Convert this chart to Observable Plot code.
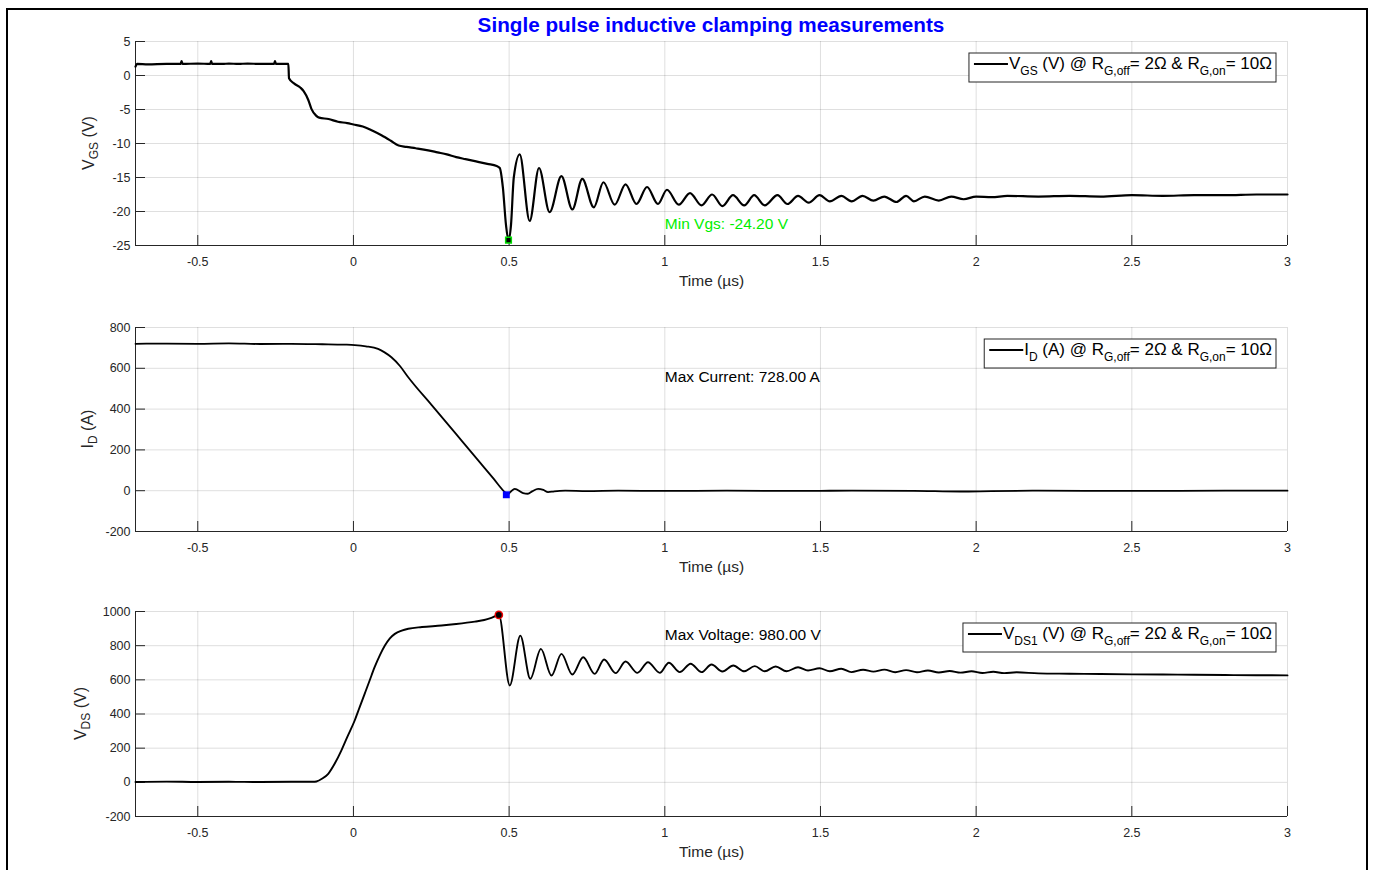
<!DOCTYPE html>
<html><head><meta charset="utf-8">
<script src="https://cdn.jsdelivr.net/npm/d3@7"></script>
<script src="https://cdn.jsdelivr.net/npm/@observablehq/plot@0.6"></script>
<style>
body{margin:0;background:#fff;overflow:hidden;width:1373px;height:870px;font-family:"Liberation Sans",Arial,Helvetica,sans-serif;}
#frame{position:absolute;left:6px;top:8px;width:1362px;height:900px;border:2px solid #000;box-sizing:border-box;}
#title{position:absolute;left:0;width:1422px;top:13px;text-align:center;font-weight:bold;font-size:20.7px;line-height:24px;color:#0000ff;}
.panel{position:absolute;left:0;}
</style></head><body>
<div id="frame"></div>
<div id="p1" class="panel" style="top:11px"></div>
<div id="p2" class="panel" style="top:297px"></div>
<div id="p3" class="panel" style="top:581px"></div>
<div id="title">Single pulse inductive clamping measurements</div>
<script>
// ---------- data ----------
const xDomain = [-0.7, 3];
const xTicks = [-0.5, 0, 0.5, 1, 1.5, 2, 2.5, 3];
const vgsTicks = [-25, -20, -15, -10, -5, 0, 5];
const idTicks = [-200, 0, 200, 400, 600, 800];
const vdsTicks = [-200, 0, 200, 400, 600, 800, 1000];

// V_GS (V) vs time (µs)
const vgsT = [-0.70,-0.695,-0.66,-0.60,-0.555,-0.552,-0.549,-0.50,-0.46,-0.457,-0.454,-0.42,-0.40,-0.37,-0.34,-0.30,-0.27,-0.255,-0.252,-0.249,-0.23,-0.209,
  -0.207,-0.19,-0.17,-0.16,-0.145,-0.135,-0.12,-0.11,-0.08,-0.05,-0.02,0.00,0.03,0.06,0.09,0.12,0.145,0.17,0.20,0.24,0.27,0.30,0.33,0.36,0.40,0.43,0.46,0.47,0.48,0.49,0.498,0.506,0.515,
  0.534,0.566,0.596,0.630,0.668,0.703,0.735,0.772,0.803,0.839,0.874,0.909,0.943,0.978,1.007,1.045,1.081,1.118,1.152,1.185,1.219,1.255,1.287,1.321,1.362,1.394,1.428,1.462,1.497,1.530,1.567,1.600,1.635,1.670,1.705,1.744,1.775,1.800,1.835,1.880,1.920,1.960,2.000,2.050,2.100,2.200,2.300,2.400,2.500,2.600,2.700,2.800,2.900,3.000];
const vgsV = [1.3,1.7,1.65,1.7,1.7,2.1,1.7,1.75,1.7,2.1,1.7,1.7,1.75,1.7,1.75,1.7,1.7,1.7,2.1,1.7,1.7,1.7,
  -0.4,-1.2,-1.8,-2.3,-3.6,-4.9,-5.9,-6.2,-6.4,-6.8,-7.0,-7.2,-7.5,-8.1,-8.8,-9.6,-10.3,-10.5,-10.7,-11.0,-11.3,-11.6,-12.0,-12.3,-12.7,-13.0,-13.3,-13.6,-16.5,-22.0,-24.2,-22.0,-15.0,
  -11.6,-21.4,-13.6,-20.1,-14.8,-19.7,-15.2,-19.4,-15.7,-19.0,-16.0,-18.9,-16.4,-18.9,-16.8,-19.0,-17.3,-19.1,-17.5,-19.2,-17.6,-19.1,-17.6,-19.1,-17.6,-18.9,-17.7,-18.7,-17.6,-18.5,-17.7,-18.5,-17.7,-18.4,-17.8,-18.6,-17.7,-18.5,-17.8,-18.4,-17.8,-18.2,-17.8,-17.9,-17.7,-17.8,-17.7,-17.8,-17.6,-17.7,-17.6,-17.6,-17.5,-17.5];

// I_D (A) vs time (µs)
const idT = [-0.70,-0.60,-0.50,-0.40,-0.30,-0.20,-0.10,-0.03,0.004,0.04,0.079,0.10,0.122,0.15,0.176,0.25,0.33,0.40,0.45,0.487,0.495,0.505,0.518,0.545,0.560,0.575,0.593,0.610,0.625,0.645,0.680,0.750,0.850,1.000,1.200,1.400,1.600,1.800,1.950,2.050,2.200,2.500,2.800,3.000];
const idV = [720,721,720,722,719,720,718,716,714,708,695,678,654,610,556,422,277,150,59,-8,-18,-5,9,-12,-15,-2,9,4,-7,-3,0,-2,0,-1,0,-1,0,-1,-4,-2,0,-1,0,0];

// V_DS (V) vs time (µs)
const vdsT = [-0.70,-0.60,-0.50,-0.40,-0.30,-0.20,-0.13,-0.119,-0.10,-0.081,-0.06,-0.039,-0.02,0.004,0.02,0.036,0.052,0.068,0.085,0.101,0.117,0.133,0.155,0.176,0.22,0.283,0.33,0.39,0.42,0.443,0.467,
  0.502,0.536,0.568,0.602,0.636,0.668,0.703,0.738,0.775,0.805,0.842,0.874,0.912,0.946,0.984,1.013,1.048,1.083,1.118,1.150,1.185,1.220,1.255,1.289,1.321,1.356,1.391,1.428,1.460,1.497,1.530,1.567,1.599,1.637,
  1.670,1.705,1.740,1.775,1.810,1.845,1.880,1.915,1.950,1.985,2.020,2.055,2.090,2.130,2.200,2.300,2.400,2.500,2.600,2.700,2.800,2.900,3.000];
const vdsV = [2,4,2,3,2,3,3,5,22,50,110,186,265,362,440,518,596,674,745,801,843,869,888,899,909,918,927,941,950,963,980,
  567,859,606,781,625,752,631,732,635,719,639,707,641,703,641,700,645,694,645,690,649,684,650,680,650,678,650,674,655,668,650,665,645,659,
  648,660,644,657,644,655,643,652,642,650,640,647,639,644,638,636,634,632,631,630,628,627,626];

// annotations and extreme-value markers
const annoText = ["Min Vgs: -24.20 V", "Max Current: 728.00 A", "Max Voltage: 980.00 V"];
const annoT = [1.0, 1.0, 1.0];
const annoY = [-21.8, 555, 860];
const peakT = [0.498, 0.491, 0.467];
const peakY = [-24.2, -20, 980];

const legendParts = [
  [["V",0],["GS",1],[" (V) @ R",0],["G,off",1],["= 2Ω & R",0],["G,on",1],["= 10Ω",0]],
  [["I",0],["D",1],[" (A) @ R",0],["G,off",1],["= 2Ω & R",0],["G,on",1],["= 10Ω",0]],
  [["V",0],["DS1",1],[" (V) @ R",0],["G,off",1],["= 2Ω & R",0],["G,on",1],["= 10Ω",0]]
];
const yLabelParts = [
  [["V",0],["GS",1],[" (V)",0]],
  [["I",0],["D",1],[" (A)",0]],
  [["V",0],["DS",1],[" (V)",0]]
];

// ---------- drawing ----------
const FONT = '"Liberation Sans", Arial, Helvetica, sans-serif';
const INK = "#262626";

function zipRows(t, v) { return t.map((d, i) => ({t: d, v: v[i]})); }

function richText(sel, parts, mainSize, subSize, subShift) {
  let shift = 0;
  for (const [s, sub] of parts) {
    const ts = sel.append("tspan").text(s);
    const target = sub ? subShift : 0;
    if (target !== shift) ts.attr("dy", target - shift);
    shift = target;
    ts.attr("font-size", sub ? subSize : mainSize);
  }
}

function makePanel(idx, cfg) {
  const innerH = cfg.innerH;
  const mt = 30, mb = 50;
  const rows = zipRows(cfg.t, cfg.v);
  const anno = [{t: annoT[idx], v: annoY[idx], s: annoText[idx]}];
  const peak = [{t: peakT[idx], v: peakY[idx]}];
  const plot = Plot.plot({
    width: 1373, height: mt + innerH + mb,
    marginLeft: 135, marginRight: 86, marginTop: mt, marginBottom: mb,
    style: {fontFamily: FONT, fontSize: "12.5px", background: "transparent", overflow: "visible"},
    x: {domain: xDomain},
    y: {domain: cfg.yDomain},
    marks: [
      Plot.gridX(xTicks, {stroke: INK, strokeOpacity: 0.15}),
      Plot.gridY(cfg.yTicks, {stroke: INK, strokeOpacity: 0.15}),
      Plot.ruleX([xDomain[0]], {stroke: INK, strokeWidth: 1}),
      Plot.ruleY([cfg.yDomain[0]], {stroke: INK, strokeWidth: 1}),
      Plot.axisX(xTicks, {tickSize: -10, tickPadding: 22, tickFormat: d => String(d), color: INK, label: null}),
      Plot.axisY(cfg.yTicks, {tickSize: -10, tickPadding: 15, tickFormat: d => String(d), color: INK, label: null}),
      Plot.text(["Time (µs)"], {frameAnchor: "bottom", dy: 36, lineAnchor: "middle", fill: INK, fontSize: 15.5}),
      Plot.line(rows, {x: "t", y: "v", stroke: "#000", strokeWidth: cfg.sw, curve: "monotone-x"}),
      Plot.text(anno, {x: "t", y: "v", text: "s", textAnchor: "start", lineAnchor: "middle", fill: cfg.annoColor, fontSize: 15.5}),
      Plot.dot(peak, {x: "t", y: "v", ...cfg.marker})
    ]
  });
  const host = document.getElementById(cfg.host);
  host.appendChild(plot);
  const svg = d3.select(plot);

  // y label with subscript
  const yl = svg.append("text")
    .attr("transform", `translate(${cfg.yLabelX},${mt + innerH / 2}) rotate(-90)`)
    .attr("text-anchor", "middle").attr("fill", INK).attr("font-family", FONT);
  richText(yl, yLabelParts[idx], 16, 12, 4);

  // legend
  const g = svg.append("g").attr("font-family", FONT).attr("text-anchor", "start");
  const right = 1276, top = mt + 12, h = 29;
  const rect = g.append("rect").attr("y", top).attr("height", h).attr("fill", "#fff").attr("stroke", INK).attr("stroke-width", 1);
  const line = g.append("line").attr("y1", top + 11).attr("y2", top + 11).attr("stroke", "#000").attr("stroke-width", 2);
  const txt = g.append("text").attr("y", top + 16).attr("fill", "#000").attr("text-anchor", "start");
  richText(txt, legendParts[idx], 17, 12, 6);
  const tw = txt.node().getComputedTextLength();
  const left = right - (5 + 34 + 1 + tw + 4);
  rect.attr("x", left).attr("width", right - left);
  line.attr("x1", left + 5).attr("x2", left + 39);
  txt.attr("x", left + 40);
}

makePanel(0, {host: "p1", t: vgsT, v: vgsV, yDomain: [-25, 5], yTicks: vgsTicks, innerH: 204, sw: 2.2,
  annoColor: "#00ee00", yLabelX: 94,
  marker: {symbol: "square", r: 3.2, fill: "#000", stroke: "#00dd00", strokeWidth: 1.5}});
makePanel(1, {host: "p2", t: idT, v: idV, yDomain: [-200, 800], yTicks: idTicks, innerH: 204, sw: 1.8,
  annoColor: "#000", yLabelX: 93,
  marker: {symbol: "square", r: 3.9, fill: "#0000ff", stroke: "none"}});
makePanel(2, {host: "p3", t: vdsT, v: vdsV, yDomain: [-200, 1000], yTicks: vdsTicks, innerH: 205, sw: 1.9,
  annoColor: "#000", yLabelX: 86,
  marker: {symbol: "circle", r: 3.6, fill: "#000", stroke: "#ee0000", strokeWidth: 1.5}});
</script>
</body></html>
